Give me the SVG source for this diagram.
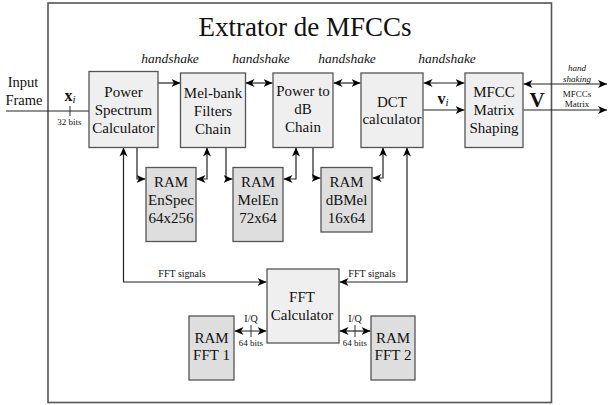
<svg xmlns="http://www.w3.org/2000/svg" width="608" height="405" viewBox="0 0 608 405">
<defs>
<marker id="ah" markerUnits="userSpaceOnUse" markerWidth="10" markerHeight="9" refX="9" refY="4" orient="auto-start-reverse" viewBox="0 0 10 8">
<path d="M0,0 L9,4 L0,8 L2.5,4 z" fill="#000"/>
</marker>
</defs>
<style>
text{font-family:"Liberation Serif","Times New Roman",serif;fill:#111}
.t{font-size:15px;text-anchor:middle}
.hs{font-size:13.5px;font-style:italic;text-anchor:middle}
.s{font-size:9.5px;text-anchor:middle}
.box{fill:#efefef;stroke:#555;stroke-width:1.3}
.ram{fill:#dedede;stroke:#555;stroke-width:1.3}
.c{fill:none;stroke:#222;stroke-width:1.2}
.a{marker-end:url(#ah)}
.b{marker-start:url(#ah);marker-end:url(#ah)}
</style>
<rect x="0" y="0" width="608" height="405" fill="#fff"/>
<g id="frame">
<rect x="48" y="3" width="503.5" height="399.5" fill="none" stroke="#555" stroke-width="1.6"/>
<text x="305" y="36" style="font-size:27px;text-anchor:middle">Extrator de MFCCs</text>
</g>
<g id="connectors">
<path class="c" d="M6,111 H89"/>
<path d="M70,106 V116" stroke="#333" stroke-width="1"/>
<path class="c a" d="M158,83 H180.5"/>
<path class="c b" d="M245.5,83 H272.5"/>
<path class="c b" d="M333.5,83 H360.5"/>
<path class="c b" d="M423.5,83 H464.5"/>
<path class="c a" d="M423.5,110 H464.5"/>
<path class="c b" d="M523.5,84 H607"/>
<path class="c a" d="M523.5,110 H607"/>
<path class="c a" d="M137,147.5 V179 H145.5"/>
<path class="c b" d="M196.5,179 H207 V147.5"/>
<path class="c a" d="M226,147.5 V179 H232.5"/>
<path class="c b" d="M283.5,179 H296 V147.5"/>
<path class="c a" d="M313,147.5 V178 H320.5"/>
<path class="c b" d="M372.5,178 H383 V147.5"/>
<path class="c b" d="M123.5,147.5 V282 H266.5"/>
<path class="c b" d="M407,147.5 V282 H339.5"/>
<path class="c b" d="M234.5,331 H266.5"/>
<path class="c b" d="M339.5,331 H370.5"/>
<path d="M251,325 V337 M355,325 V337" stroke="#333" stroke-width="1"/>
</g>
<g id="labels">
<text x="23" y="87" style="font-size:14.5px;text-anchor:middle">Input</text>
<text x="24" y="105" style="font-size:14.5px;text-anchor:middle">Frame</text>
<text x="70" y="101" style="font-size:16px;text-anchor:middle"><tspan font-weight="bold">x</tspan><tspan font-style="italic" font-size="11" dy="2">i</tspan></text>
<text x="69.5" y="125" class="s" style="font-size:9px">32 bits</text>
<text x="170" y="63" class="hs">handshake</text>
<text x="261" y="63" class="hs">handshake</text>
<text x="347" y="63" class="hs">handshake</text>
<text x="447" y="63" class="hs">handshake</text>
<text x="443" y="104" style="font-size:16px;text-anchor:middle"><tspan font-weight="bold">v</tspan><tspan font-style="italic" font-size="11" dy="2">i</tspan></text>
<text x="537" y="107" style="font-size:21px;font-weight:bold;text-anchor:middle">V</text>
<text x="577" y="71" class="s" style="font-style:italic;font-size:9px">hand</text>
<text x="577" y="82" class="s" style="font-style:italic;font-size:9px">shaking</text>
<text x="577" y="97" class="s" style="font-size:9px">MFCCs</text>
<text x="577" y="107" class="s" style="font-size:9px">Matrix</text>
<text x="182" y="277" class="s" style="font-size:10px">FFT signals</text>
<text x="372" y="277" class="s" style="font-size:10px">FFT signals</text>
<text x="251" y="322" class="s" style="font-size:10px">I/Q</text>
<text x="251" y="346" class="s" style="font-size:9px">64 bits</text>
<text x="355" y="322" class="s" style="font-size:10px">I/Q</text>
<text x="355" y="346" class="s" style="font-size:9px">64 bits</text>
</g>
<g id="power-spectrum">
<rect class="box" x="89" y="71.5" width="69" height="76"/>
<text class="t" x="123.5" y="97">Power</text>
<text class="t" x="123.5" y="115">Spectrum</text>
<text class="t" x="123.5" y="133">Calculator</text>
</g>
<g id="mel-bank">
<rect class="box" x="180.5" y="73" width="65" height="74.5"/>
<text class="t" x="213" y="98">Mel-bank</text>
<text class="t" x="213" y="116">Filters</text>
<text class="t" x="213" y="134">Chain</text>
</g>
<g id="power-to-db">
<rect class="box" x="273" y="73" width="60" height="74.5"/>
<text class="t" x="303" y="96">Power to</text>
<text class="t" x="303" y="114">dB</text>
<text class="t" x="303" y="132">Chain</text>
</g>
<g id="dct">
<rect class="box" x="361" y="73" width="62" height="74.5"/>
<text class="t" x="392" y="107">DCT</text>
<text class="t" x="392" y="124">calculator</text>
</g>
<g id="mfcc-matrix">
<rect class="box" x="465" y="73" width="58" height="74.5"/>
<text class="t" x="494" y="97">MFCC</text>
<text class="t" x="494" y="115">Matrix</text>
<text class="t" x="494" y="133">Shaping</text>
</g>
<g id="ram-enspec">
<rect class="ram" x="146" y="167.5" width="50" height="74"/>
<text class="t" x="171" y="187">RAM</text>
<text class="t" x="171" y="205">EnSpec</text>
<text class="t" x="171" y="223">64x256</text>
</g>
<g id="ram-melen">
<rect class="ram" x="233" y="167.5" width="50" height="74"/>
<text class="t" x="258" y="187">RAM</text>
<text class="t" x="258" y="205">MelEn</text>
<text class="t" x="258" y="223">72x64</text>
</g>
<g id="ram-dbmel">
<rect class="ram" x="321" y="167.5" width="51" height="64.5"/>
<text class="t" x="346.5" y="187">RAM</text>
<text class="t" x="346.5" y="205">dBMel</text>
<text class="t" x="346.5" y="223">16x64</text>
</g>
<g id="fft-calculator">
<rect class="box" x="267" y="269" width="72" height="74"/>
<text class="t" x="302" y="302">FFT</text>
<text class="t" x="302" y="320">Calculator</text>
</g>
<g id="ram-fft1">
<rect class="ram" x="189" y="316" width="45" height="64"/>
<text class="t" x="211.5" y="343">RAM</text>
<text class="t" x="211.5" y="360">FFT 1</text>
</g>
<g id="ram-fft2">
<rect class="ram" x="371" y="316" width="44" height="64"/>
<text class="t" x="393" y="343">RAM</text>
<text class="t" x="393" y="360">FFT 2</text>
</g>
</svg>
